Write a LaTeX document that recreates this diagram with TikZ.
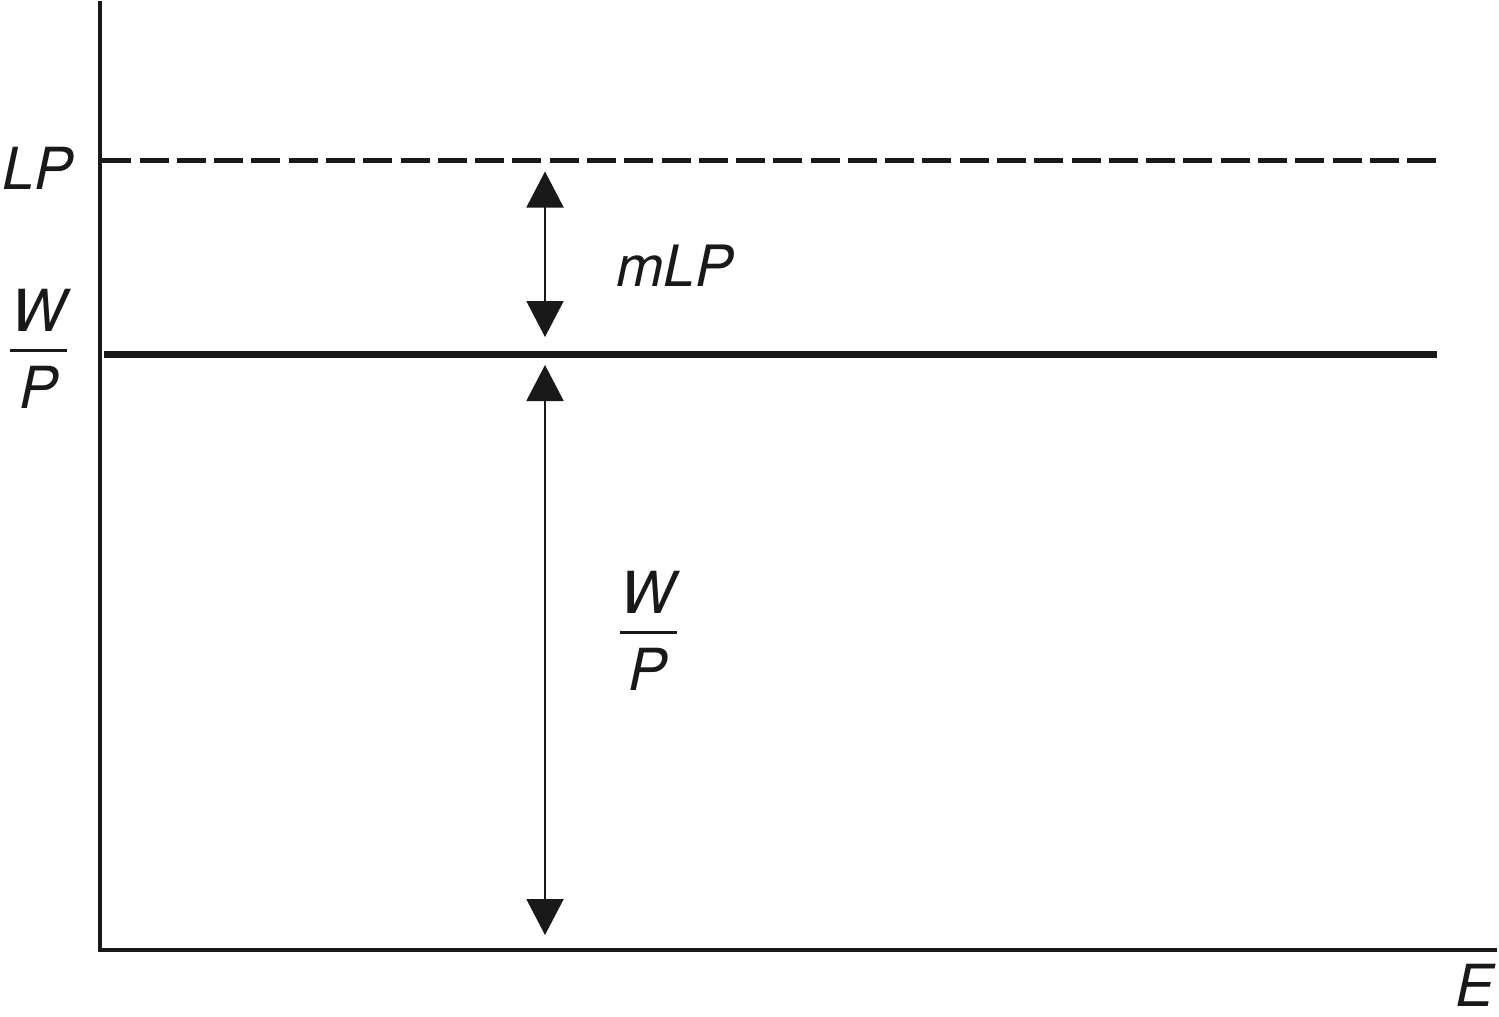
\documentclass[tikz,border=0pt]{standalone}
\usepackage{fontspec}
\setmainfont{TeX Gyre Heros}
\usetikzlibrary{arrows.meta}
\newcommand\myfrac[2]{\vbox{\hbox to 57pt{\hss\itshape#1\hss}\kern17pt\hrule height 3pt\kern15pt\hbox to 57pt{\hss\itshape#2\hss}}}
\tikzset{
  axisline/.style={line width=3.6pt, black!90},
  dashline/.style={line width=4.2pt, black!90, dash pattern=on 29pt off 8.28pt},
  wageline/.style={line width=7pt, black!90},
  dimarrow/.style={line width=2pt, black!90, {Triangle[length=36pt,width=37pt]}-{Triangle[length=36pt,width=37pt]}},
  lab/.style={inner sep=0pt, font=\fontsize{58}{60}\selectfont\itshape, text=black!90},
}
\begin{document}
\begin{tikzpicture}[x=1pt,y=-1pt]
\useasboundingbox (0,0) rectangle (1499,1017);
% axes
\coordinate (top) at (100,1);
\coordinate (origin) at (100,950);
\coordinate (xend) at (1497,950);
\draw[axisline] (top) -- (origin) -- (xend);
% LP dashed line
\coordinate (lp0) at (102.3,160.5);
\coordinate (lp1) at (1436,160.5);
\draw[dashline] (lp0) -- (lp1);
% W/P line
\coordinate (wp0) at (104,354);
\coordinate (wp1) at (1437,354);
\draw[wageline] (wp0) -- (wp1);
% arrows
\coordinate (a1) at (545,171.5);
\coordinate (a2) at (545,337);
\coordinate (a3) at (545,365);
\coordinate (a4) at (545,935);
\draw[dimarrow] (a1) -- (a2);
\draw[dimarrow] (a3) -- (a4);
% labels
\node[lab] (lLP) at (38,168) {LP};
\node[lab] (lWP) at (38.5,349) {\myfrac{W}{P}};
\node[lab, font=\fontsize{57}{59}\selectfont\itshape] (lmLP) at (675,266) {mLP};
\node[lab] (lWP2) at (648,631) {\myfrac{W}{P}};
\node[lab] (lE) at (1475,985.5) {E};
\end{tikzpicture}
\end{document}
